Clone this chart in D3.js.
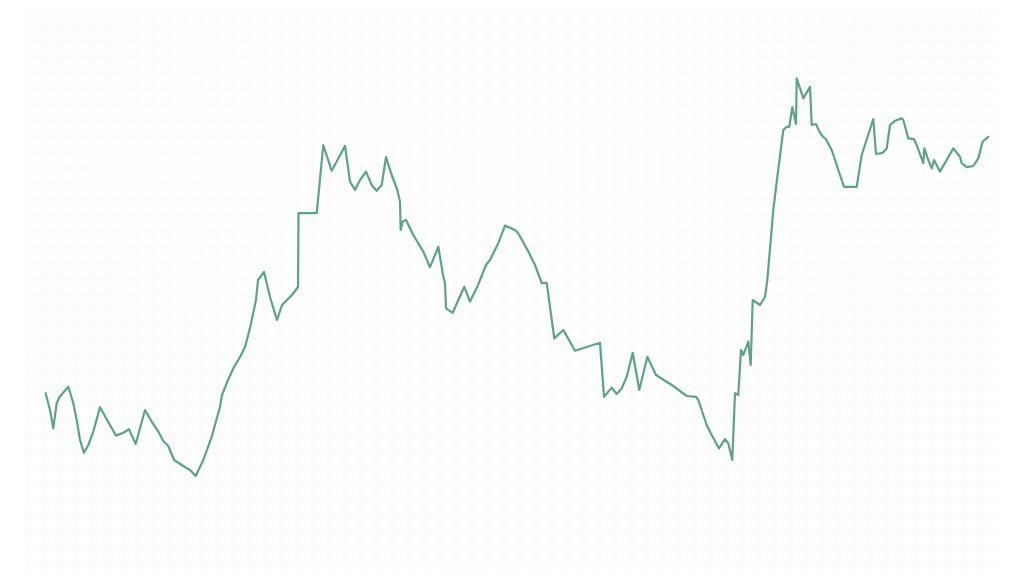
<!DOCTYPE html>
<html><head><meta charset="utf-8">
<script src="https://cdn.jsdelivr.net/npm/d3@7"></script>
<style>html,body{margin:0;padding:0;background:#fff;}svg{display:block;}</style>
</head><body>
<script>
const times = [0,4.3,7.6,11.0,13.6,17.0,22.6,27.6,31.0,34.3,38.3,42.6,47.6,54.3,61.0,70.3,77.6,83.3,90.0,99.3,106.0,112.6,117.6,122.6,128.3,137.6,144.3,150.0,157.6,166.0,174.3,176.3,182.3,188.3,194.3,199.3,204.3,210.3,212.3,218.3,224.3,231.3,236.3,246.3,252.3,252.8,271.0,277.6,286.0,299.3,304.3,309.3,314.3,320.3,326.0,331.0,336.0,340.3,346.0,351.6,354.3,355.0,357.0,360.3,367.6,377.6,384.3,392.6,397.6,399.3,400.3,407.0,412.6,418.6,424.3,431.6,440.3,444.3,452.6,459.3,469.3,472.6,482.6,489.3,496.0,501.0,508.6,517.6,529.3,554.3,558.3,566.0,571.0,576.0,581.0,587.0,593.6,601.6,610.3,627.6,641.0,650.3,652.6,661.0,666.0,673.3,679.3,682.6,686.6,689.3,692.6,695.3,697.6,702.6,705.0,707.0,714.3,719.3,721.6,727.6,731.6,737.6,741.0,743.6,746.6,750.3,751.0,757.6,764.3,766.0,770.3,773.6,777.6,780.3,786.0,798.3,811.0,816.0,827.6,830.3,837.0,841.0,844.3,849.3,856.0,857.6,862.6,868.3,871.0,877.6,878.6,882.6,886.0,888.3,894.3,907.6,914.3,916.0,921.0,927.6,932.6,937.0,942.6];
const values = [31.7,27.5,22.9,29.2,30.7,31.7,33.3,29.2,25.0,20.0,16.8,18.75,22.1,28.2,25.2,21.1,21.8,22.7,19.0,27.5,24.6,22.1,19.75,18.5,15.0,13.5,12.5,11.0,15.0,20.8,28.3,31.25,35.0,38.25,40.75,43.25,48.0,55.0,60.0,62.0,55.75,50.0,53.75,56.25,58.25,76.7,76.7,93.75,87.3,93.5,84.6,82.5,85.0,87.1,83.75,82.3,83.75,90.7,86.25,82.5,79.6,72.5,74.6,75.0,71.25,67.1,63.2,68.3,60.8,59.2,52.9,51.8,55.0,58.3,54.6,58.3,63.75,65.0,69.2,73.6,72.5,71.7,67.1,63.75,59.2,59.3,45.4,47.5,42.3,44.3,30.8,33.1,31.5,32.9,35.8,41.8,32.5,40.8,36.25,33.5,31.0,30.8,30.0,23.75,21.25,17.9,20.2,19.2,15.0,31.7,31.25,42.5,41.25,44.6,38.75,55.0,53.75,55.8,60.0,77.5,85.8,97.5,98.3,98.3,103.2,99.0,110.4,105.4,108.3,98.75,99.0,97.1,95.7,95.2,92.5,83.3,83.3,91.25,100.2,91.5,91.8,92.9,98.75,99.8,100.4,100.0,95.4,95.2,93.75,89.2,92.9,90.0,87.9,90.0,87.1,92.9,90.8,89.2,88.2,88.5,90.4,94.6,95.8];

const W = 1024, H = 576;
const svg = d3.select("body").append("svg").attr("width", W).attr("height", H);
svg.append("rect").attr("width", W).attr("height", H).attr("fill", "#fff");

const defs = svg.append("defs");
defs.append("filter").attr("id", "soft").append("feGaussianBlur").attr("stdDeviation", 2);
defs.append("filter").attr("id", "lsoft").append("feGaussianBlur").attr("stdDeviation", 0.35);

// very faint background grid
const grid = svg.append("g").attr("filter", "url(#soft)").attr("stroke", "#fafafa").attr("stroke-width", 4);
const gx0 = 27, gx1 = 995, gy0 = 9, gy1 = 571;
grid.selectAll("line.v").data(d3.range(gx0, gx1 + 1, 15.9)).join("line")
  .attr("x1", d => d).attr("x2", d => d).attr("y1", gy0).attr("y2", gy1);
grid.selectAll("line.h").data(d3.range(gy0 + 1, gy1 + 1, 15.8)).join("line")
  .attr("y1", d => d).attr("y2", d => d).attr("x1", gx0).attr("x2", gx1);

const x = d3.scaleLinear().domain([0, 942.6]).range([45.7, 988.3]);
const y = d3.scaleLinear().domain([0, 130]).range([520, 0]);

const data = times.map((t, i) => ({t, v: values[i]}));
svg.append("path").datum(data)
  .attr("fill", "none")
  .attr("stroke", "#5fa289")
  .attr("stroke-width", 2.2)
  .attr("stroke-linejoin", "round")
  .attr("stroke-linecap", "round")
  .attr("filter", "url(#lsoft)")
  .attr("d", d3.line().x(d => x(d.t)).y(d => y(d.v)));
</script>
</body></html>
